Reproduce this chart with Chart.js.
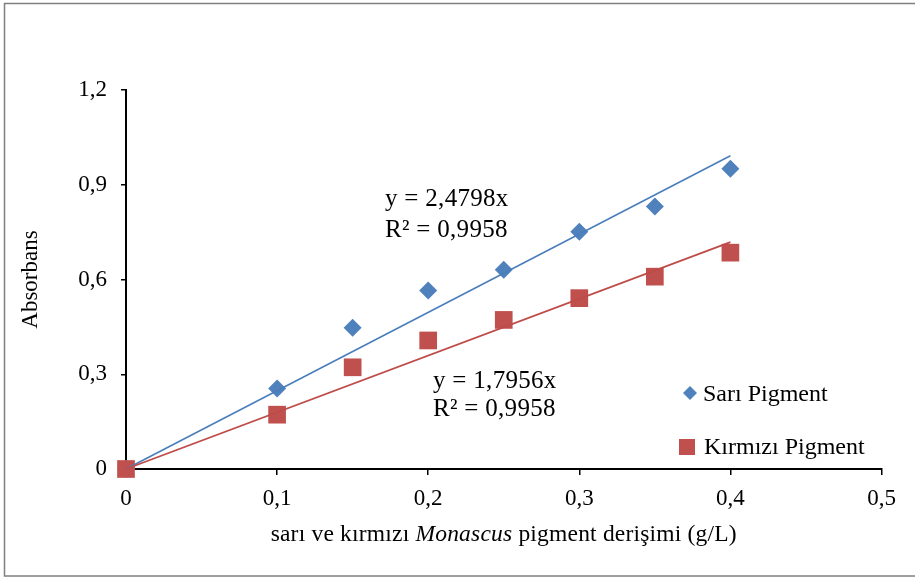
<!DOCTYPE html>
<html>
<head>
<meta charset="utf-8">
<script src="https://cdn.jsdelivr.net/npm/chart.js@4.4.1/dist/chart.umd.min.js"></script>
<style>
  html, body { margin: 0; padding: 0; background: #ffffff; }
  #wrap { width: 915px; height: 579px; position: relative; }
</style>
</head>
<body>
<div id="wrap"><canvas id="c" width="915" height="579"></canvas></div>
<script>
// Pigment concentration (g/L)
const concentration = [0, 0.1, 0.15, 0.2, 0.25, 0.3, 0.35, 0.4];
// Absorbance readings
const sariAbs    = [0, 0.255, 0.447, 0.565, 0.631, 0.751, 0.831, 0.951];
const kirmiziAbs = [0, 0.172, 0.322, 0.407, 0.472, 0.541, 0.609, 0.685];
// Linear fits through the origin
const sariSlope = 2.4798, kirmiziSlope = 1.7956;
const sariR2 = 0.9958, kirmiziR2 = 0.9958;
const fitEnd = 0.4;

const seriesNames = ['Sarı Pigment', 'Kırmızı Pigment'];
const xTickLabels = ['0', '0,1', '0,2', '0,3', '0,4', '0,5'];
const yTickLabels = ['0', '0,3', '0,6', '0,9', '1,2'];

const BLUE = '#4F81BD', RED = '#C0504D';
const BLUE_LINE = '#4A7EBB', RED_LINE = '#BE4B48';
const SERIF = "'Liberation Serif', 'Times New Roman', serif";

const comma = v => String(v).replace('.', ',');
const pts = ys => concentration.map((x, i) => ({ x: x, y: ys[i] }));
const fit = k => [{ x: 0, y: 0 }, { x: fitEnd, y: k * fitEnd }];

// Outer frame
const framePlugin = {
  id: 'frame',
  beforeDraw(chart) {
    const ctx = chart.ctx;
    ctx.save();
    ctx.fillStyle = '#fff';
    ctx.fillRect(0, 0, chart.width, chart.height);
    ctx.strokeStyle = '#7f7f7f';
    ctx.lineWidth = 1.5;
    ctx.strokeRect(4.5, 3.5, chart.width + 10, chart.height - 6.5);
    ctx.restore();
  }
};

// Regression equations, x-axis title with italic genus, and legend
const textPlugin = {
  id: 'texts',
  afterDraw(chart) {
    const ctx = chart.ctx;
    const area = chart.chartArea;
    ctx.save();
    ctx.fillStyle = '#000';
    ctx.textBaseline = 'alphabetic';
    ctx.textAlign = 'left';

    // equations
    ctx.font = '25px ' + SERIF;
    ctx.letterSpacing = '0.3px';
    ctx.fillText('y = ' + comma(sariSlope) + 'x', 385, 206);
    ctx.fillText('R² = ' + comma(sariR2), 385, 237);
    ctx.fillText('y = ' + comma(kirmiziSlope) + 'x', 433, 388);
    ctx.fillText('R² = ' + comma(kirmiziR2), 433, 416);

    // x-axis title
    ctx.letterSpacing = '0.2px';
    const parts = [
      ['sarı ve kırmızı ', 'normal'],
      ['Monascus', 'italic'],
      [' pigment derişimi (g/L)', 'normal']
    ];
    let total = 0;
    parts.forEach(p => { ctx.font = p[1] + ' 23.5px ' + SERIF; total += ctx.measureText(p[0]).width; });
    let x = (area.left + area.right) / 2 - total / 2;
    parts.forEach(p => {
      ctx.font = p[1] + ' 23.5px ' + SERIF;
      ctx.fillText(p[0], x, 541);
      x += ctx.measureText(p[0]).width;
    });

    // legend
    const ds = chart.data.datasets;
    ctx.font = '24px ' + SERIF;
    ctx.letterSpacing = '0px';
    // diamond
    ctx.fillStyle = ds[0].backgroundColor;
    ctx.beginPath();
    ctx.moveTo(690, 386); ctx.lineTo(697, 393); ctx.lineTo(690, 400); ctx.lineTo(683, 393);
    ctx.closePath(); ctx.fill();
    ctx.fillStyle = '#000';
    ctx.fillText(ds[0].label, 703, 401);
    // square
    ctx.fillStyle = ds[1].backgroundColor;
    ctx.fillRect(679, 439, 16, 16);
    ctx.fillStyle = '#000';
    ctx.fillText(ds[1].label, 704, 454);
    ctx.restore();
  }
};

new Chart(document.getElementById('c'), {
  type: 'scatter',
  data: {
    datasets: [
      {
        label: seriesNames[0], data: pts(sariAbs), order: 3,
        pointStyle: 'rectRot', pointRadius: 9, pointHoverRadius: 9,
        backgroundColor: BLUE, borderColor: BLUE, borderWidth: 0, clip: false
      },
      {
        label: seriesNames[1], data: pts(kirmiziAbs), order: 2,
        pointStyle: 'rect', pointRadius: 12.5, pointHoverRadius: 12.5,
        backgroundColor: RED, borderColor: RED, borderWidth: 0, clip: false
      },
      {
        label: 'fit-sari', data: fit(sariSlope), order: 1, showLine: true,
        pointRadius: 0, borderColor: BLUE_LINE, borderWidth: 1.6, clip: false
      },
      {
        label: 'fit-kirmizi', data: fit(kirmiziSlope), order: 0, showLine: true,
        pointRadius: 0, borderColor: RED_LINE, borderWidth: 1.8, clip: false
      }
    ]
  },
  options: {
    responsive: false,
    animation: false,
    events: [],
    layout: { padding: { top: 90, right: 33.5, bottom: 0, left: 0 } },
    plugins: { legend: { display: false }, tooltip: { enabled: false }, title: { display: false } },
    scales: {
      x: {
        type: 'linear', min: 0, max: 0.5,
        ticks: {
          stepSize: 0.1, padding: 10, color: '#000',
          font: { family: SERIF, size: 23 },
          callback: (v, i) => xTickLabels[i]
        },
        grid: { drawOnChartArea: false, drawTicks: true, tickLength: 6, color: '#000', lineWidth: 1.5 },
        border: { color: '#000', width: 2 },
        afterFit: s => { s.height = 110; }
      },
      y: {
        type: 'linear', min: 0, max: 1.2,
        ticks: {
          stepSize: 0.3, padding: 14, color: '#000',
          font: { family: SERIF, size: 23 },
          callback: (v, i) => yTickLabels[i]
        },
        grid: { drawOnChartArea: false, drawTicks: true, tickLength: 5, color: '#000', lineWidth: 1.5 },
        border: { color: '#000', width: 2 },
        title: {
          display: true, text: 'Absorbans', color: '#000',
          font: { family: SERIF, size: 23 }, padding: { top: 17, bottom: 0 }
        },
        afterFit: s => { s.width = 126; }
      }
    }
  },
  plugins: [framePlugin, textPlugin]
});
</script>
</body>
</html>
